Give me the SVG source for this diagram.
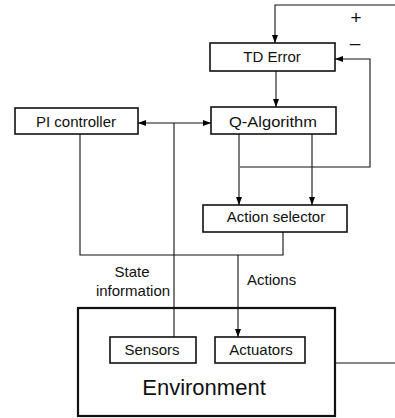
<svg xmlns="http://www.w3.org/2000/svg" width="395" height="418" viewBox="0 0 395 418">
<defs>
<marker id="ah" markerWidth="8" markerHeight="8" viewBox="0 0 8 8" refX="8" refY="4" orient="auto" markerUnits="userSpaceOnUse">
<path d="M0,1 L8,4 L0,7 Z" fill="#000"/>
</marker>
</defs>
<style>
.box{fill:#fff;stroke:#111;stroke-width:1.6}
.env{fill:#fff;stroke:#111;stroke-width:2.2}
.ln{fill:none;stroke:#111;stroke-width:1.1}
text{font-family:"Liberation Sans",Arial,sans-serif;font-size:15px;fill:#111;text-anchor:middle}
</style>
<g id="environment">
<rect class="env" x="78" y="308" width="257" height="108"/>
<text x="204" y="395" style="font-size:22px">Environment</text>
</g>
<g id="td-error">
<rect class="box" x="210" y="43" width="125" height="28"/>
<text x="272" y="62">TD Error</text>
</g>
<g id="q-algorithm">
<rect class="box" x="211" y="107" width="125" height="27"/>
<text x="273" y="127" textLength="88" lengthAdjust="spacingAndGlyphs">Q-Algorithm</text>
</g>
<g id="pi-controller">
<rect class="box" x="15" y="108" width="123" height="26"/>
<text x="76" y="127">PI controller</text>
</g>
<g id="action-selector">
<rect class="box" x="203" y="205" width="144" height="27"/>
<text x="276" y="222">Action selector</text>
</g>
<g id="sensors">
<rect class="box" x="110" y="337" width="86" height="26"/>
<text x="152" y="355">Sensors</text>
</g>
<g id="actuators">
<rect class="box" x="215" y="337" width="90" height="26"/>
<text x="261" y="355">Actuators</text>
</g>
<g id="connectors">
<polyline class="ln" points="395,5 275,5 275,43" marker-end="url(#ah)"/>
<line class="ln" x1="276" y1="71" x2="276" y2="107" marker-end="url(#ah)"/>
<polyline class="ln" points="240,167 370,167 370,59 335,59" marker-end="url(#ah)"/>
<line class="ln" x1="239" y1="134" x2="239" y2="205" marker-end="url(#ah)"/>
<line class="ln" x1="312" y1="134" x2="312" y2="205" marker-end="url(#ah)"/>
<line class="ln" x1="174" y1="123" x2="138" y2="123" marker-end="url(#ah)"/>
<line class="ln" x1="174" y1="123" x2="211" y2="123" marker-end="url(#ah)"/>
<line class="ln" x1="174" y1="123" x2="174" y2="337"/>
<polyline class="ln" points="80,134 80,255 283,255 283,232"/>
<line class="ln" x1="238" y1="255" x2="238" y2="337" marker-end="url(#ah)"/>
<line class="ln" x1="335" y1="363" x2="395" y2="363"/>
<text x="356" y="24" style="font-size:19px">+</text>
<text x="355" y="49" style="font-size:19px">–</text>
<text x="132" y="277">State</text>
<text x="133" y="296">information</text>
<text x="247" y="285" style="text-anchor:start">Actions</text>
</g>
</svg>
